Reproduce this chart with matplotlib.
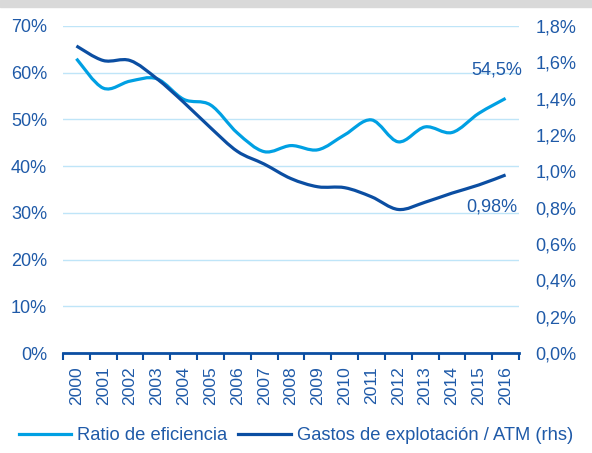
import numpy as np
import matplotlib
matplotlib.use("Agg")
import matplotlib.pyplot as plt
from matplotlib.path import Path
from matplotlib.patches import PathPatch

years = [str(y) for y in range(2000, 2017)]
ratio_eficiencia = [63.0, 56.7, 58.2, 58.7, 54.3, 53.1, 47.1, 43.1, 44.4, 43.5,
                    46.7, 49.9, 45.2, 48.4, 47.2, 51.3, 54.5]
gastos_atm = [1.69, 1.61, 1.61, 1.51, 1.38, 1.24, 1.11, 1.04, 0.96, 0.915,
              0.91, 0.86, 0.79, 0.83, 0.88, 0.925, 0.98]

LIGHT = "#00a0e3"
DARK = "#0b4ea2"
TEXT = "#1f5aa8"
GRID = "#bfe5f8"

plt.rcParams['font.family'] = ['Liberation Sans', 'DejaVu Sans']


def smooth_line(ax, xs, ys, color, lw=2.3):
    # Excel-style smoothed line: Catmull-Rom converted to cubic bezier segments
    xs = np.asarray(xs, float)
    ys = np.asarray(ys, float)
    n = len(xs)
    verts = [(xs[0], ys[0])]
    codes = [Path.MOVETO]
    for i in range(n - 1):
        p0 = (xs[max(i - 1, 0)], ys[max(i - 1, 0)])
        p1 = (xs[i], ys[i])
        p2 = (xs[i + 1], ys[i + 1])
        p3 = (xs[min(i + 2, n - 1)], ys[min(i + 2, n - 1)])
        c1 = (p1[0] + (p2[0] - p0[0]) / 6, p1[1] + (p2[1] - p0[1]) / 6)
        c2 = (p2[0] - (p3[0] - p1[0]) / 6, p2[1] - (p3[1] - p1[1]) / 6)
        verts += [c1, c2, p2]
        codes += [Path.CURVE4] * 3
    patch = PathPatch(Path(verts, codes), facecolor="none", edgecolor=color,
                      lw=lw, capstyle="butt", zorder=3)
    ax.add_patch(patch)


fig = plt.figure(figsize=(5.92, 4.53), dpi=100)
fig.patches.append(plt.Rectangle((0, 1 - 7 / 453), 1, 7 / 453, transform=fig.transFigure,
                                 color="#d9d9d9", zorder=0))

ax = fig.add_axes([63 / 592, 1 - 353 / 453, (519 - 63) / 592, (353 - 26) / 453])
ax2 = ax.twinx()

x = np.arange(len(years))
smooth_line(ax, x, ratio_eficiencia, LIGHT)
smooth_line(ax2, x, gastos_atm, DARK)

ax.set_xlim(-0.5, len(years) - 0.5)
ax.set_ylim(0, 70)
ax2.set_ylim(0, 1.8)

ax.set_yticks(np.arange(0, 71, 10))
ax.set_yticklabels([f"{v}%" for v in range(0, 71, 10)])
ax2.set_yticks(np.arange(0, 1.81, 0.2))
ax2.set_yticklabels([f"{v:.1f}%".replace(".", ",") for v in np.arange(0, 1.81, 0.2)])

ax.grid(axis="y", color=GRID, lw=1)
ax.set_axisbelow(True)

for a in (ax, ax2):
    for s in a.spines.values():
        s.set_visible(False)
    a.tick_params(axis="y", length=0, labelsize=13, labelcolor=TEXT)
ax.tick_params(axis="y", pad=11.5)
ax2.tick_params(axis="y", pad=12)

ax.spines["bottom"].set_visible(True)
ax.spines["bottom"].set_color(DARK)
ax.spines["bottom"].set_linewidth(2)

ax.set_xticks(x)
ax.set_xticklabels(years, rotation=90, fontsize=12.6, color=TEXT)
ax.tick_params(axis="x", length=0, pad=9.5)
ax.set_xticks(np.arange(-0.5, len(years)), minor=True)
ax.tick_params(axis="x", which="minor", length=5, width=1.5, color=DARK)

ax.text(16.61, 60.6, "54,5%", ha="right", va="center",
        fontsize=13, color=TEXT)
ax2.text(16.43, 0.803, "0,98%", ha="right", va="center",
         fontsize=13, color=TEXT)

l1, = ax.plot([], [], color=LIGHT, lw=2.3)
l2, = ax.plot([], [], color=DARK, lw=2.3)
fig.legend([l1, l2], ["Ratio de eficiencia", "Gastos de explotación / ATM (rhs)"],
           loc="center", bbox_to_anchor=(0.5, 1 - 436 / 453), ncol=2, frameon=False,
           fontsize=13.2, labelcolor=TEXT, handlelength=2.85, handletextpad=0.33,
           columnspacing=0.6)

fig.savefig("out.png", dpi=100)
